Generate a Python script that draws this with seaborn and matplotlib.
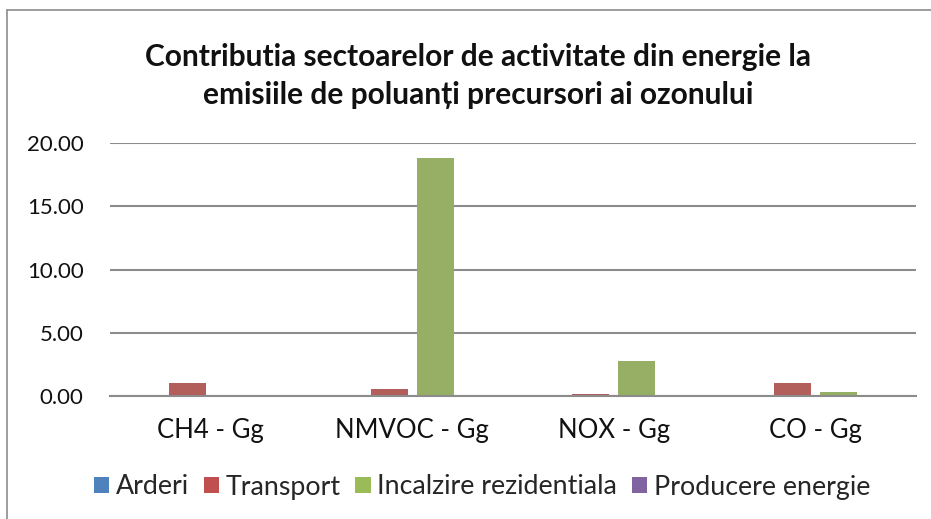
"""Contributia sectoarelor din energie la emisiile de precursori ai ozonului."""

import pandas as pd
import matplotlib
matplotlib.use("Agg")
import matplotlib.pyplot as plt
from matplotlib.lines import Line2D
from matplotlib.patches import Patch
import seaborn as sns

# Date (Gg)
categorii = ["CH4 - Gg", "NMVOC - Gg", "NOX - Gg", "CO - Gg"]
serii = ["Arderi", "Transport", "Incalzire rezidentiala", "Producere energie"]
arderi = [0.0, 0.0, 0.0, 0.0]
transport = [1.05, 0.57, 0.13, 1.05]
incalzire = [0.0, 18.83, 2.80, 0.30]
producere = [0.0, 0.0, 0.0, 0.0]
yticks = [0, 5, 10, 15, 20]

culori = ["#4F81BD", "#C0504D", "#9BBB59", "#8064A2"]

df = pd.DataFrame({
    "categorie": categorii * 4,
    "sector": [s for s in serii for _ in categorii],
    "valoare": arderi + transport + incalzire + producere,
})

sns.set_style("white")
plt.rcParams["font.family"] = ["Lato", "DejaVu Sans"]

fig = plt.figure(figsize=(9.31, 5.19), dpi=100)
ax = fig.add_axes([110 / 931, 1 - 396 / 519, 806 / 931, 253 / 519])

sns.barplot(data=df, x="categorie", y="valoare", hue="sector",
            hue_order=serii, palette=culori, width=0.913, gap=0.2,
            linewidth=0, ax=ax, legend=False)

ax.set_ylim(0, 20)
ax.set_xlim(-0.5, 3.5)
ax.set_yticks(yticks)
ax.set_yticklabels([f"{v:.2f}" for v in yticks])
ax.yaxis.grid(True, color="#8c8c8c", linewidth=1.5)
ax.set_axisbelow(True)
for s in ["left", "right", "top"]:
    ax.spines[s].set_visible(False)
ax.spines["bottom"].set_color("#8c8c8c")
ax.spines["bottom"].set_linewidth(1.5)
ax.tick_params(axis="both", length=0, colors="#111111")
ax.tick_params(axis="y", pad=19, labelsize=16)
ax.tick_params(axis="x", pad=16, labelsize=18.5)
ax.set_xlabel("")
ax.set_ylabel("")

fig.text(478 / 931, 1 - 76 / 519,
         "Contributia sectoarelor de activitate din energie la\n"
         "emisiile de poluanți precursori ai ozonului",
         ha="center", va="center", fontsize=21.5, fontweight="bold",
         linespacing=1.42, color="#111111")

handles = [Patch(facecolor=c, edgecolor="none") for c in culori]
fig.legend(handles, serii, loc="center", bbox_to_anchor=(482 / 931, 1 - 487 / 519),
           ncol=4, frameon=False, fontsize=19.3, handlelength=0.57, handleheight=0.52,
           handletextpad=0.25, columnspacing=0.55)

# chenar exterior (doar stanga si sus vizibile)
fig.add_artist(Line2D([7 / 931, 7 / 931], [0, 1 - 10 / 519],
                      transform=fig.transFigure, color="#8c8c8c", linewidth=1.2))
fig.add_artist(Line2D([7 / 931, 1], [1 - 10 / 519, 1 - 10 / 519],
                      transform=fig.transFigure, color="#8c8c8c", linewidth=1.2))

fig.savefig("out.png", dpi=100)
plt.close("all")
